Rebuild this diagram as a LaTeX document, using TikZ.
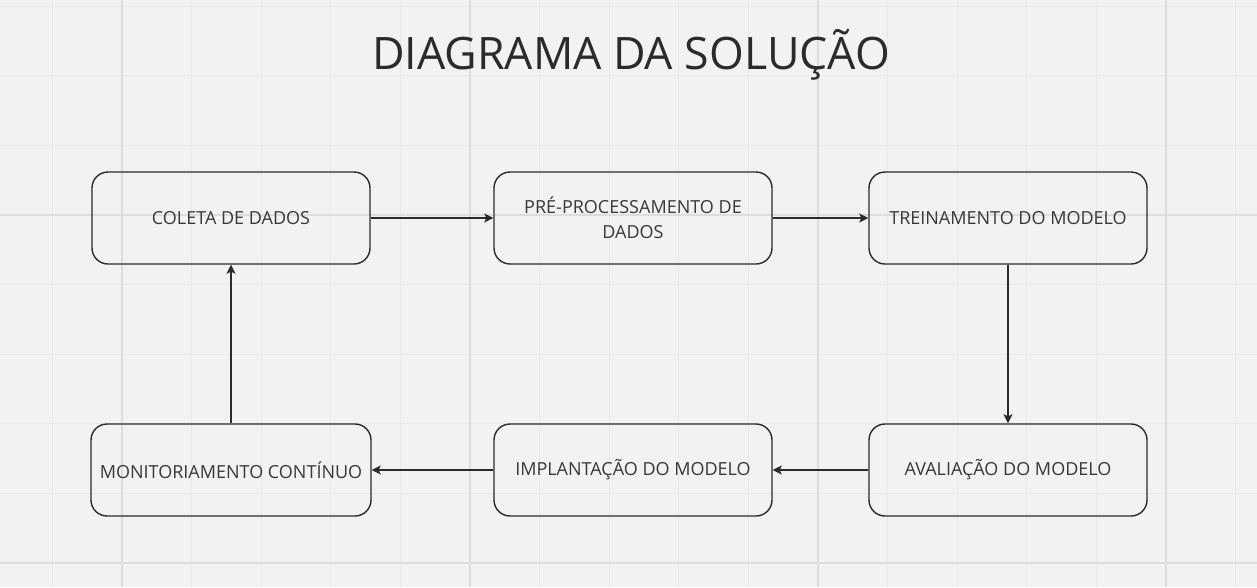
\documentclass[tikz,border=0pt]{standalone}
\usepackage{fontspec}
\setmainfont{Open Sans}
\usetikzlibrary{arrows.meta}
\definecolor{bg}{HTML}{F2F2F2}
\definecolor{gminor}{HTML}{E8E8E8}
\definecolor{gmajor}{HTML}{DDDDDD}
\definecolor{ink}{HTML}{2B2B2B}
\definecolor{txt}{HTML}{383838}
\tikzset{
  stepbox/.style={draw=ink, line width=1.4pt, rounded corners=16pt, minimum width=278pt, minimum height=92pt, inner sep=0pt, align=center, font=\fontsize{18}{25}\selectfont, text=txt},
  conn/.style={draw=ink, line width=1.3pt, -{Stealth[length=9pt,width=9pt,inset=2pt]}},
}
\begin{document}
\begin{tikzpicture}[x=1pt,y=-1pt]
\fill[bg] (0,0) rectangle (1257,587);
\useasboundingbox (0,0) rectangle (1257,587);
% grid
\foreach \k in {0,...,17}{
  \pgfmathsetmacro{\xx}{52.4+69.6*\k}
  \draw[gminor, line width=1pt] (\xx,0) -- (\xx,587);
}
\foreach \k in {0,...,8}{
  \pgfmathsetmacro{\yy}{6.2+69.6*\k}
  \draw[gminor, line width=1pt] (0,\yy) -- (1257,\yy);
}
\foreach \xx in {122,470,818,1166}{
  \draw[gmajor, line width=1.5pt] (\xx,0) -- (\xx,587);
}
\foreach \yy in {215,563}{
  \draw[gmajor, line width=1.5pt] (0,\yy) -- (1257,\yy);
}
% title
\node[font=\fontsize{44.7}{54}\selectfont, text=ink] (title) at (631,55) {DIAGRAMA DA SOLUÇÃO};
% boxes
\node[stepbox] (coleta) at (231,218) {COLETA DE DADOS};
\node[stepbox] (pre) at (633,218) {PRÉ-PROCESSAMENTO DE\\DADOS};
\node[stepbox] (trein) at (1008,218) {TREINAMENTO DO MODELO};
\node[stepbox] (aval) at (1008,470) {AVALIAÇÃO DO MODELO};
\node[stepbox] (impl) at (633,470) {IMPLANTAÇÃO DO MODELO};
\node[stepbox, minimum width=280pt] (monit) at (231,470) {MONITORIAMENTO CONTÍNUO};
% connectors
\draw[conn] (coleta) -- (pre);
\draw[conn] (pre) -- (trein);
\draw[conn] (trein) -- (aval);
\draw[conn] (aval) -- (impl);
\draw[conn] (impl) -- (monit);
\draw[conn] (monit) -- (coleta);
\end{tikzpicture}
\end{document}
